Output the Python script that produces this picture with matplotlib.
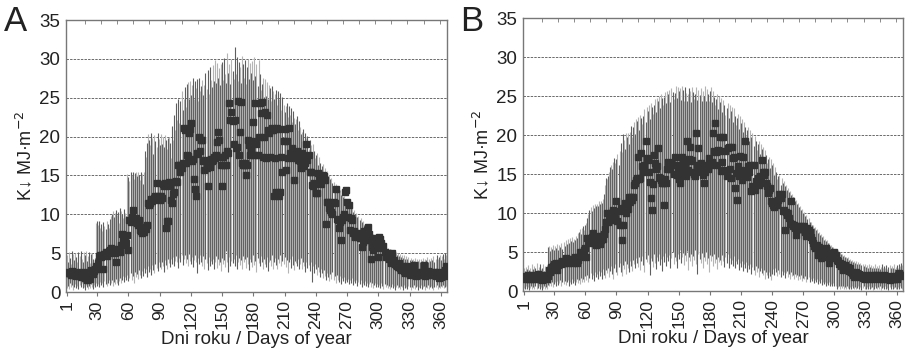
import matplotlib
matplotlib.use("Agg")
import matplotlib.pyplot as plt
import numpy as np

plt.rcParams['font.family'] = ['Liberation Sans', 'DejaVu Sans']

# ---------------- Panel A: daily mean / min / max (days 1..365) ----------------
a_mean = [
    2.4, 2.6, 2.4, 2.5, 2.2, 2.7, 2.3, 2.2, 2.5, 2.1,
    2.4, 2.6, 2.2, 1.9, 2.5, 2.3, 2.6, 1.8, 2.0, 1.6,
    2.0, 2.2, 1.7, 2.8, 2.5, 2.3, 2.7, 2.9, 3.3, 3.0,
    3.7, 4.6, 4.7, 4.5, 4.8, 3.0, 4.9, 5.1, 4.6, 5.0,
    5.3, 5.4, 5.6, 5.5, 5.1, 5.2, 5.0, 3.9, 5.3, 5.5,
    5.4, 5.2, 6.1, 7.5, 6.7, 6.4, 7.2, 6.3, 7.3, 5.4,
    9.3, 9.0, 9.6, 10.6, 9.4, 9.2, 9.5, 8.9, 8.6, 9.3,
    8.0, 7.8, 7.6, 8.2, 7.7, 8.4, 8.1, 8.6, 11.4, 11.2,
    11.5, 12.0, 11.7, 11.8, 12.1, 12.4, 14.0, 12.3, 12.0, 11.8,
    12.3, 12.1, 13.9, 13.6, 14.0, 8.2, 9.1, 9.1, 14.2, 13.7,
    11.8, 11.5, 12.6, 12.9, 14.2, 14.3, 14.1, 16.3, 16.4, 15.5,
    16.0, 16.6, 21.1, 20.9, 16.6, 17.6, 17.5, 20.4, 21.0, 21.7,
    16.8, 17.1, 14.6, 13.3, 12.3, 17.9, 17.8, 20.0, 18.1, 19.6,
    19.6, 16.8, 15.7, 17.0, 15.9, 13.6, 16.3, 16.1, 17.1, 16.9,
    17.0, 17.4, 17.2, 17.6, 19.3, 20.6, 19.6, 17.4, 16.4, 13.7,
    17.4, 16.3, 17.6, 16.4, 18.1, 17.9, 24.3, 22.1, 23.2, 22.0,
    19.1, 22.1, 18.5, 18.7, 24.6, 17.6, 20.6, 24.5, 16.6, 16.3,
    16.4, 16.6, 15.1, 16.4, 19.6, 18.9, 17.6, 18.3, 19.4, 21.9,
    17.6, 24.3, 19.1, 17.6, 20.0, 24.3, 23.0, 24.5, 17.4, 20.0,
    23.2, 17.2, 22.8, 20.8, 20.4, 17.4, 20.8, 21.1, 20.8, 12.3,
    17.2, 12.9, 21.1, 21.0, 12.3, 12.9, 17.4, 15.5, 19.4, 21.0,
    15.7, 19.4, 17.3, 21.1, 17.9, 17.4, 18.5, 17.6, 14.4, 17.2,
    17.9, 18.2, 17.0, 17.4, 16.8, 15.9, 17.9, 17.4, 16.2, 16.6,
    19.1, 17.0, 17.6, 15.5, 15.4, 13.8, 13.6, 14.0, 13.9, 12.8,
    12.7, 15.3, 14.8, 14.2, 13.9, 14.6, 15.1, 14.9, 14.4, 8.8,
    11.6, 11.6, 10.8, 10.6, 10.3, 10.1, 11.6, 11.4, 13.3, 9.4,
    9.3, 8.2, 9.0, 6.7, 9.3, 9.6, 10.1, 12.9, 13.1, 11.6,
    9.7, 11.2, 8.0, 9.5, 9.3, 7.6, 7.9, 7.1, 7.4, 7.2,
    7.6, 6.9, 7.0, 5.8, 6.4, 7.8, 6.7, 7.4, 8.0, 8.4,
    7.5, 6.7, 4.3, 5.8, 5.4, 6.3, 6.9, 5.6, 6.6, 4.5,
    7.1, 6.8, 6.3, 5.6, 5.9, 5.2, 4.5, 4.8, 5.0, 4.3,
    4.6, 3.7, 5.0, 3.9, 4.1, 3.6, 3.5, 3.4, 3.2, 3.7,
    3.1, 2.8, 2.9, 3.3, 2.7, 2.5, 2.6, 3.3, 2.4, 2.2,
    2.7, 2.3, 2.6, 3.5, 2.4, 2.0, 2.3, 2.6, 2.4, 2.2,
    2.5, 2.6, 2.3, 3.5, 2.1, 2.4, 2.2, 2.7, 2.3, 2.6,
    2.4, 2.2, 2.4, 2.6, 2.0, 2.3, 2.6, 1.8, 2.2, 1.9,
    2.0, 2.4, 2.1, 2.8, 3.3,
]

a_max = [
    4.8, 3.9, 5.2, 4.4, 3.6, 5.3, 4.9, 4.1, 5.0, 4.5,
    3.8, 5.2, 4.6, 5.3, 4.2, 3.9, 5.1, 4.8, 5.3, 4.0,
    4.6, 5.2, 3.7, 4.9, 5.0, 4.3, 3.6, 4.4, 8.9, 9.1,
    8.6, 9.2, 8.3, 8.8, 7.9, 9.0, 8.5, 8.1, 9.2, 8.7,
    8.2, 9.4, 9.8, 10.1, 10.4, 9.6, 10.2, 10.5, 9.9, 10.3,
    8.9, 10.8, 10.4, 10.0, 9.5, 10.7, 10.2, 9.8, 15.2, 14.8,
    14.3, 15.4, 15.0, 15.5, 14.6, 15.3, 15.4, 14.9, 15.5, 15.1,
    14.4, 15.5, 15.2, 13.9, 15.4, 18.1, 17.4, 19.2, 20.3, 19.6,
    18.9, 20.5, 19.8, 17.8, 20.2, 19.4, 18.6, 20.4, 19.7, 18.9,
    20.3, 19.1, 19.9, 18.7, 20.2, 19.5, 18.4, 19.8, 20.0, 19.2,
    17.2, 21.3, 19.6, 22.8, 20.9, 24.3, 22.1, 24.8, 21.7, 24.6,
    25.9, 23.4, 24.9, 26.4, 23.8, 26.8, 27.0, 24.9, 27.2, 25.4,
    26.6, 27.5, 24.8, 27.1, 26.2, 27.4, 24.6, 27.6, 25.9, 26.5,
    27.3, 25.4, 26.7, 28.2, 26.1, 28.6, 25.5, 28.9, 27.3, 26.4,
    29.2, 27.1, 29.8, 26.9, 29.5, 27.6, 28.8, 26.7, 29.4, 29.6,
    27.3, 30.1, 28.0, 26.9, 30.8, 28.2, 29.4, 26.8, 30.0, 28.5,
    27.4, 31.5, 28.1, 30.2, 27.1, 29.6, 28.9, 26.9, 30.4, 29.3,
    27.5, 29.8, 26.8, 29.0, 30.0, 27.4, 29.5, 28.2, 29.7, 27.3,
    30.2, 27.8, 29.4, 26.5, 29.9, 28.1, 26.0, 26.8, 27.5, 25.1,
    27.4, 25.2, 27.0, 24.9, 26.7, 26.2, 24.6, 26.5, 25.9, 24.8,
    25.5, 26.0, 24.1, 25.9, 24.8, 25.6, 23.4, 25.1, 24.1, 23.2,
    23.9, 24.3, 22.5, 23.9, 22.8, 23.7, 21.9, 23.3, 22.4, 21.6,
    22.2, 22.7, 20.8, 22.0, 21.2, 20.3, 20.6, 21.0, 19.2, 20.5,
    19.8, 20.1, 18.4, 19.6, 18.9, 17.5, 19.0, 18.1, 17.3, 17.6,
    17.9, 16.3, 17.4, 16.6, 15.8, 16.2, 16.5, 15.0, 15.9, 15.3,
    15.6, 14.9, 15.1, 14.5, 14.7, 14.0, 14.2, 13.6, 13.9, 13.2,
    13.4, 12.9, 13.1, 12.5, 12.7, 12.2, 12.4, 11.8, 12.0, 11.5,
    11.7, 11.1, 11.3, 10.8, 10.9, 10.3, 10.6, 10.0, 10.2, 9.6,
    9.8, 9.3, 9.5, 9.0, 9.1, 8.6, 8.8, 8.3, 8.4, 7.9,
    8.1, 7.6, 7.7, 7.3, 7.4, 7.0, 7.1, 6.7, 6.9, 6.4,
    6.6, 6.2, 6.3, 5.9, 6.1, 5.7, 5.8, 5.5, 5.6, 5.3,
    5.5, 5.2, 5.4, 5.0, 5.2, 4.9, 5.1, 4.7, 5.0, 4.6,
    4.9, 4.5, 4.8, 4.4, 4.7, 4.3, 4.6, 4.2, 4.5, 4.1,
    4.4, 4.1, 4.3, 4.0, 4.4, 3.9, 4.2, 4.0, 4.3, 3.8,
    4.2, 4.0, 4.4, 3.9, 4.3, 4.1, 4.5, 3.8, 4.2, 4.0,
    4.4, 4.1, 4.6, 3.9, 4.3, 4.7, 4.2, 4.5, 4.8, 4.1,
    4.6, 4.9, 4.3, 5.0, 4.7,
]

a_min = [
    0.5, 0.8, 0.4, 1.1, 0.6, 0.9, 0.3, 0.7, 1.0, 0.5,
    0.8, 0.4, 0.9, 0.6, 1.2, 0.5, 0.7, 0.3, 0.9, 0.6,
    0.4, 0.8, 0.5, 1.0, 0.6, 0.4, 0.9, 0.7, 1.2, 0.8,
    1.0, 0.6, 1.3, 0.9, 1.1, 0.7, 1.4, 1.0, 0.8, 1.2,
    1.5, 0.9, 1.1, 1.6, 0.8, 1.3, 1.0, 1.7, 1.2, 0.9,
    1.4, 1.8, 1.1, 1.6, 2.0, 1.3, 1.9, 1.5, 2.2, 1.4,
    1.8, 2.4, 1.6, 2.1, 1.2, 2.6, 1.9, 2.3, 1.7, 2.8,
    2.2, 1.8, 2.7, 2.0, 3.1, 2.4, 2.9, 1.9, 3.3, 2.6,
    3.0, 2.2, 3.5, 2.8, 2.4, 3.6, 3.1, 2.7, 3.8, 3.2,
    2.9, 3.9, 3.4, 2.6, 4.1, 3.5, 3.0, 4.3, 3.7, 3.2,
    4.2, 3.6, 4.5, 3.3, 4.0, 4.6, 3.8, 3.1, 4.4, 3.9,
    4.7, 3.5, 4.2, 4.8, 3.7, 4.3, 3.4, 4.9, 4.0, 3.6,
    4.5, 3.2, 4.1, 4.8, 3.8, 2.4, 4.4, 3.6, 4.7, 3.9,
    3.3, 4.6, 3.0, 4.2, 3.7, 2.8, 4.5, 3.4, 4.0, 3.6,
    4.3, 2.9, 3.8, 4.6, 3.1, 4.2, 3.5, 3.9, 2.7, 4.4,
    3.6, 4.1, 3.2, 5.3, 3.8, 2.6, 4.5, 3.3, 4.0, 3.7,
    4.2, 3.4, 4.8, 3.0, 3.9, 4.4, 3.5, 4.1, 2.9, 4.6,
    3.8, 4.2, 3.1, 4.5, 3.6, 2.8, 4.3, 3.9, 3.2, 4.7,
    3.5, 4.0, 2.6, 4.4, 3.7, 3.3, 4.6, 3.9, 3.0, 4.2,
    3.6, 3.2, 4.5, 2.7, 3.9, 4.1, 3.4, 4.7, 3.0, 3.8,
    4.4, 3.5, 2.9, 4.2, 3.7, 4.8, 3.3, 4.0, 3.6, 4.5,
    3.2, 4.1, 2.4, 3.8, 4.3, 3.1, 4.6, 3.5, 2.8, 4.0,
    3.7, 3.3, 4.2, 2.9, 3.6, 4.4, 3.0, 3.9, 3.4, 2.6,
    3.8, 3.1, 3.5, 2.7, 3.9, 1.3, 3.3, 2.5, 3.6, 2.9,
    2.2, 3.2, 2.6, 1.9, 3.0, 2.4, 1.8, 2.8, 2.1, 1.6,
    2.5, 1.9, 1.4, 2.3, 1.7, 2.6, 1.5, 2.0, 1.2, 2.2,
    1.6, 1.3, 2.1, 1.0, 1.8, 1.4, 1.9, 1.1, 1.6, 1.3,
    1.7, 1.0, 1.5, 1.2, 1.8, 0.9, 1.4, 1.1, 1.6, 0.8,
    1.3, 1.0, 1.5, 0.7, 1.2, 0.9, 1.4, 0.8, 1.1, 0.6,
    1.0, 1.3, 0.7, 1.1, 0.5, 0.9, 1.2, 0.6, 1.0, 0.7,
    0.9, 0.5, 1.1, 0.8, 0.4, 1.0, 0.6, 0.9, 0.5, 0.8,
    0.4, 0.7, 1.0, 0.5, 0.8, 0.3, 0.6, 0.9, 0.5, 0.7,
    0.4, 0.8, 0.6, 0.3, 0.9, 0.5, 0.7, 0.4, 0.8, 0.6,
    0.3, 0.7, 0.5, 0.9, 0.4, 0.6, 0.8, 0.3, 0.7, 0.5,
    0.9, 0.4, 0.6, 0.8, 0.3, 0.7, 0.5, 0.9, 0.4, 0.6,
    0.8, 0.5, 0.3, 0.7, 0.6, 0.9, 0.4, 0.7, 0.5, 0.8,
    0.6, 0.9, 0.5, 0.7, 0.8,
]

# ---------------- Panel B ----------------
b_mean = [
    1.8, 1.6, 1.9, 1.7, 2.0, 1.5, 1.8, 1.6, 2.1, 1.7,
    1.9, 1.6, 1.8, 2.2, 1.5, 1.7, 1.9, 1.4, 1.8, 1.6,
    2.0, 1.7, 1.5, 1.9, 2.7, 2.5, 3.1, 2.9, 3.2, 3.4,
    3.1, 3.6, 2.7, 3.3, 3.5, 3.6, 3.4, 3.8, 3.6, 3.7,
    4.2, 3.9, 3.6, 4.0, 3.7, 3.8, 4.1, 3.6, 3.9, 4.4,
    3.8, 3.6, 4.0, 4.4, 5.0, 4.8, 4.5, 4.9, 5.3, 5.5,
    4.4, 6.8, 6.2, 6.6, 6.4, 6.9, 7.4, 6.1, 6.6, 5.9,
    7.0, 6.3, 6.8, 6.0, 6.5, 7.0, 6.7, 7.3, 8.0, 8.9,
    10.0, 8.9, 9.3, 9.7, 10.0, 9.1, 10.4, 10.1, 9.4, 11.5,
    9.0, 10.3, 8.5, 10.6, 6.5, 8.5, 10.7, 11.3, 10.0, 11.0,
    10.5, 12.1, 11.4, 12.0, 11.7, 12.1, 13.6, 13.9, 14.2, 14.5,
    17.2, 14.3, 14.5, 17.7, 16.0, 15.2, 16.2, 19.2, 17.0, 16.8,
    15.3, 14.0, 11.9, 10.4, 13.7, 17.5, 16.4, 15.7, 16.0, 18.3,
    14.6, 14.5, 14.2, 13.9, 13.8, 11.0, 14.3, 13.8, 15.6, 16.6,
    16.0, 15.7, 16.4, 16.2, 15.0, 17.2, 16.2, 14.9, 15.5, 14.3,
    13.8, 16.0, 17.2, 16.5, 15.1, 16.4, 14.8, 19.2, 15.5, 16.9,
    18.5, 16.7, 16.8, 15.3, 15.0, 14.7, 20.2, 16.1, 18.3, 15.7,
    16.4, 15.2, 14.9, 13.8, 15.3, 16.0, 16.2, 15.6, 17.0, 16.4,
    16.1, 16.6, 20.2, 17.9, 21.5, 17.8, 16.2, 18.1, 17.9, 19.8,
    15.4, 16.5, 19.8, 15.5, 17.9, 14.7, 18.3, 18.5, 15.7, 14.5,
    18.5, 17.1, 17.2, 13.2, 15.1, 11.7, 16.0, 14.8, 17.3, 15.5,
    14.2, 17.2, 15.0, 19.2, 15.1, 14.6, 16.0, 15.2, 16.2, 12.8,
    13.4, 16.2, 13.0, 14.1, 14.0, 14.5, 13.6, 14.7, 14.3, 16.8,
    15.3, 14.9, 15.2, 13.8, 13.5, 12.6, 12.9, 13.2, 11.5, 11.3,
    11.0, 10.8, 11.4, 11.2, 11.0, 11.7, 12.5, 11.9, 12.5, 10.2,
    10.4, 7.8, 10.1, 9.8, 10.0, 9.4, 8.7, 11.5, 8.6, 8.3,
    8.5, 8.1, 7.2, 8.0, 8.3, 8.1, 7.9, 8.3, 8.0, 7.9,
    8.3, 7.6, 7.0, 8.1, 7.8, 7.6, 6.9, 6.6, 6.1, 5.8,
    5.5, 5.7, 5.9, 4.6, 5.6, 5.2, 4.2, 5.1, 4.8, 4.4,
    5.2, 5.5, 4.9, 4.7, 3.6, 4.3, 4.8, 4.5, 4.2, 5.0,
    4.6, 4.0, 3.8, 3.4, 3.6, 3.2, 3.5, 2.7, 3.1, 3.3,
    3.0, 2.8, 3.1, 2.6, 2.9, 2.5, 2.3, 2.1, 1.8, 2.0,
    2.4, 2.3, 1.9, 2.2, 1.8, 2.1, 1.7, 1.9, 1.6, 1.8,
    2.0, 1.8, 1.6, 1.9, 1.7, 2.0, 1.8, 1.5, 1.7, 2.0,
    1.9, 2.1, 1.7, 1.6, 1.9, 1.8, 1.5, 2.0, 1.7, 1.9,
    1.6, 1.8, 1.4, 1.7, 1.9, 1.6, 1.5, 1.8, 1.8, 1.6,
    2.0, 2.3, 2.0, 2.1, 1.9,
]

b_max = [
    2.9, 2.6, 3.1, 2.8, 3.3, 2.7, 3.0, 2.5, 3.4, 2.8,
    3.2, 2.9, 3.6, 2.7, 3.1, 3.4, 2.8, 3.0, 3.5, 2.6,
    3.2, 2.9, 3.3, 5.6, 5.8, 5.1, 5.7, 5.4, 5.9, 5.2,
    5.8, 5.5, 6.0, 5.3, 5.9, 5.6, 6.1, 5.4, 6.3, 5.8,
    6.5, 6.0, 6.7, 6.2, 6.8, 6.4, 6.9, 6.3, 6.7, 6.6,
    7.1, 6.8, 7.4, 7.6, 7.9, 7.3, 8.1, 8.3, 7.8, 8.4,
    8.7, 9.3, 9.9, 10.4, 10.8, 10.3, 11.0, 10.6, 11.1, 10.9,
    11.2, 10.9, 11.5, 11.1, 11.6, 11.3, 11.8, 12.4, 13.6, 14.5,
    14.3, 14.8, 15.2, 15.9, 16.2, 15.7, 16.6, 17.1, 16.4, 16.9,
    17.6, 16.2, 17.9, 19.0, 17.8, 20.1, 19.4, 18.2, 20.3, 19.7,
    20.2, 18.9, 20.4, 21.2, 19.8, 21.0, 21.7, 20.1, 22.0, 21.8,
    22.3, 20.6, 22.6, 22.2, 21.4, 22.5, 23.3, 21.7, 23.6, 23.1,
    23.8, 22.1, 24.1, 23.6, 22.7, 23.9, 24.6, 23.0, 24.8, 24.4,
    25.0, 23.4, 25.2, 24.7, 23.9, 24.9, 25.5, 24.1, 25.7, 25.2,
    25.8, 24.2, 26.0, 25.5, 24.6, 25.4, 26.3, 24.7, 26.1, 25.6,
    26.0, 24.5, 26.3, 25.8, 24.4, 26.1, 25.4, 24.3, 25.3, 26.0,
    25.7, 24.2, 26.1, 25.5, 24.6, 25.3, 26.2, 24.5, 25.8, 25.1,
    26.0, 24.3, 25.7, 25.0, 26.3, 24.4, 25.9, 25.2, 24.3, 25.6,
    26.1, 24.2, 25.7, 24.9, 23.8, 24.6, 25.2, 23.3, 25.0, 24.2,
    24.8, 22.9, 24.5, 23.8, 22.6, 23.5, 24.1, 22.2, 23.9, 23.1,
    23.6, 21.7, 23.4, 22.5, 21.3, 22.2, 22.7, 20.8, 22.4, 21.6,
    22.0, 20.4, 21.7, 21.0, 19.9, 20.6, 21.0, 19.2, 20.6, 19.8,
    20.3, 18.6, 19.9, 19.2, 18.1, 18.9, 19.2, 17.6, 18.9, 18.2,
    18.5, 16.9, 18.1, 17.4, 16.4, 16.9, 17.2, 15.8, 16.9, 16.2,
    16.4, 14.9, 15.9, 15.2, 14.3, 14.7, 14.9, 13.6, 14.5, 13.9,
    14.1, 13.5, 13.6, 13.0, 13.2, 12.7, 12.8, 12.3, 12.5, 12.0,
    12.1, 11.6, 11.7, 11.2, 11.3, 10.8, 10.9, 10.4, 10.5, 10.0,
    10.1, 9.6, 9.7, 9.2, 9.3, 8.8, 8.9, 8.4, 8.5, 8.1,
    8.2, 7.8, 7.9, 7.5, 7.6, 7.2, 7.3, 6.9, 7.0, 6.6,
    6.7, 6.4, 6.5, 6.1, 6.2, 5.8, 5.9, 5.6, 5.7, 5.3,
    5.4, 5.1, 5.2, 4.9, 5.0, 4.7, 4.8, 4.5, 4.6, 4.3,
    4.4, 4.2, 4.3, 4.0, 4.1, 3.8, 4.0, 3.7, 3.9, 3.6,
    3.8, 3.5, 3.7, 3.4, 3.6, 3.3, 3.5, 3.2, 3.4, 3.1,
    3.3, 3.0, 3.4, 3.1, 3.3, 2.9, 3.2, 3.0, 3.4, 2.9,
    3.2, 3.0, 3.3, 2.8, 3.1, 3.4, 2.9, 3.2, 3.0, 3.3,
    2.8, 3.1, 3.3, 2.9, 3.2, 3.0, 3.4, 2.8, 3.1, 3.3,
    3.0, 3.5, 3.2, 3.6, 3.3,
]

b_min = [
    0.4, 0.2, 0.6, 0.3, 0.5, 0.1, 0.4, 0.6, 0.2, 0.5,
    0.3, 0.6, 0.2, 0.4, 0.7, 0.3, 0.5, 0.1, 0.4, 0.6,
    0.3, 0.5, 0.2, 0.8, 0.6, 1.0, 0.7, 1.2, 0.5, 0.9,
    1.1, 0.6, 1.3, 0.8, 1.0, 1.4, 0.7, 1.2, 0.9, 1.3,
    0.8, 1.1, 1.4, 0.7, 1.2, 0.9, 1.5, 1.0, 1.3, 0.8,
    1.2, 1.6, 1.0, 1.4, 0.9, 1.7, 1.2, 1.5, 1.1, 1.9,
    1.4, 2.0, 1.2, 1.7, 2.3, 1.5, 2.1, 1.3, 2.5, 1.8,
    2.2, 1.6, 2.6, 1.9, 2.4, 1.5, 2.8, 2.1, 1.7, 2.7,
    2.3, 3.0, 1.8, 2.6, 3.2, 2.2, 1.6, 2.9, 3.4, 2.4,
    2.0, 3.1, 3.6, 2.5, 1.9, 3.3, 2.8, 3.8, 2.2, 3.5,
    3.0, 2.4, 3.9, 3.2, 2.6, 4.0, 3.4, 2.9, 4.2, 3.6,
    3.1, 4.3, 2.7, 3.8, 4.5, 3.3, 2.5, 4.1, 3.7, 4.6,
    3.4, 2.0, 4.2, 3.9, 3.1, 4.7, 3.6, 2.8, 4.4, 3.8,
    4.8, 3.3, 4.1, 2.6, 4.5, 3.7, 4.9, 3.2, 4.3, 3.9,
    4.6, 3.0, 4.2, 5.0, 3.5, 4.4, 3.8, 2.9, 4.7, 4.1,
    5.2, 3.6, 4.3, 4.9, 3.3, 4.6, 3.9, 5.1, 2.7, 4.4,
    3.8, 4.8, 3.2, 4.5, 4.0, 5.3, 3.5, 2.2, 4.7, 4.1,
    3.6, 4.9, 3.0, 4.4, 3.8, 5.0, 3.4, 4.2, 2.4, 4.6,
    3.9, 4.5, 3.2, 4.8, 3.6, 4.1, 2.8, 4.4, 3.7, 4.0,
    3.3, 4.6, 3.9, 3.1, 4.3, 3.6, 4.7, 3.0, 4.2, 3.5,
    4.0, 3.2, 4.5, 2.9, 3.8, 3.4, 4.1, 2.7, 3.6, 3.1,
    3.9, 2.6, 3.4, 3.0, 3.7, 2.4, 3.3, 2.8, 3.5, 2.2,
    3.1, 2.7, 2.0, 3.2, 2.5, 2.9, 1.8, 2.6, 3.0, 2.3,
    2.0, 2.7, 1.6, 2.4, 2.1, 1.7, 2.5, 1.9, 1.4, 2.2,
    2.8, 2.1, 3.0, 2.4, 1.9, 2.7, 2.2, 1.8, 2.6, 2.0,
    2.4, 1.7, 2.3, 2.6, 1.8, 2.2, 1.6, 2.5, 1.9, 2.1,
    1.5, 2.2, 1.8, 2.0, 1.4, 1.9, 1.6, 2.1, 1.3, 1.7,
    1.5, 1.9, 1.2, 1.6, 1.8, 1.1, 1.5, 1.3, 1.7, 1.0,
    1.4, 1.1, 1.6, 0.9, 1.3, 1.0, 1.5, 0.8, 1.2, 0.9,
    1.1, 0.7, 1.0, 0.8, 1.2, 0.6, 0.9, 0.7, 1.0, 0.6,
    0.6, 0.3, 0.5, 0.7, 0.2, 0.6, 0.4, 0.7, 0.3, 0.5,
    0.2, 0.6, 0.4, 0.3, 0.5, 0.2, 0.6, 0.4, 0.3, 0.5,
    0.2, 0.4, 0.6, 0.3, 0.5, 0.1, 0.4, 0.6, 0.3, 0.2,
    0.5, 0.3, 0.6, 0.2, 0.4, 0.5, 0.1, 0.3, 0.6, 0.4,
    0.2, 0.5, 0.3, 0.6, 0.1, 0.4, 0.5, 0.2, 0.6, 0.3,
    0.4, 0.1, 0.5, 0.3, 0.6, 0.2, 0.4, 0.5, 0.3, 0.2,
    0.5, 0.3, 0.6, 0.4, 0.2,
]

x_ticks = [1, 30, 60, 90, 120, 150, 180, 210, 240, 270, 300, 330, 360]
y_ticks = [0, 5, 10, 15, 20, 25, 30, 35]
panel_labels = ["A", "B"]

for s in (a_mean, a_max, a_min, b_mean, b_max, b_min):
    assert len(s) == 365, len(s)

text_col = '#222222'

fig = plt.figure(figsize=(9.15, 3.53), dpi=100)
ax_a = fig.add_axes([0.0721, 0.1728, 0.4164, 0.7705])
ax_b = fig.add_axes([0.5716, 0.1756, 0.4153, 0.7734])


def draw_panel(ax, mean, lo, hi):
    days = np.arange(1, len(mean) + 1)
    # alternating dark / light grey range lines, like the original print
    cols = ['#5e5e5e' if i % 2 else '#b4b4b4' for i in range(len(days))]
    ax.vlines(days, lo, hi, colors=cols, lw=0.8, zorder=2)
    ax.plot(days, mean, 's', ms=4.9, color='#333333', mec='#333333', zorder=3)

    ax.set_xlim(0, 366)
    ax.set_ylim(0, 35)
    ax.set_yticks(y_ticks)
    ax.set_xticks(x_ticks)
    ax.set_xticks(np.arange(18, 365, 15.5), minor=True)
    ax.tick_params(axis='y', length=0, pad=4, labelsize=13.5, labelcolor=text_col)
    ax.tick_params(axis='x', which='major', length=3, direction='out', color='#777777',
                   pad=3, labelsize=12.5, labelcolor=text_col, labelrotation=90)
    ax.tick_params(axis='x', which='minor', top=True, bottom=False, length=3,
                   direction='in', color='#777777')

    ax.yaxis.grid(True, ls=(0, (2.5, 1.2)), color='#6a6a6a', lw=0.7, zorder=0)
    ax.set_axisbelow(True)
    for sp in ax.spines.values():
        sp.set_color('#777777')
        sp.set_linewidth(1.0)

    ax.set_xlabel("Dni roku / Days of year", fontsize=13.5, color=text_col, labelpad=1)
    ax.set_ylabel("K↓ MJ·m$^{-2}$", fontsize=13, color=text_col, labelpad=3)


draw_panel(ax_a, a_mean, a_min, a_max)
draw_panel(ax_b, b_mean, b_min, b_max)

fig.text(0.004, 0.985, panel_labels[0], fontsize=25, color=text_col, va='top', ha='left')
fig.text(0.503, 0.985, panel_labels[1], fontsize=25, color=text_col, va='top', ha='left')

fig.savefig("out.png", dpi=100)
